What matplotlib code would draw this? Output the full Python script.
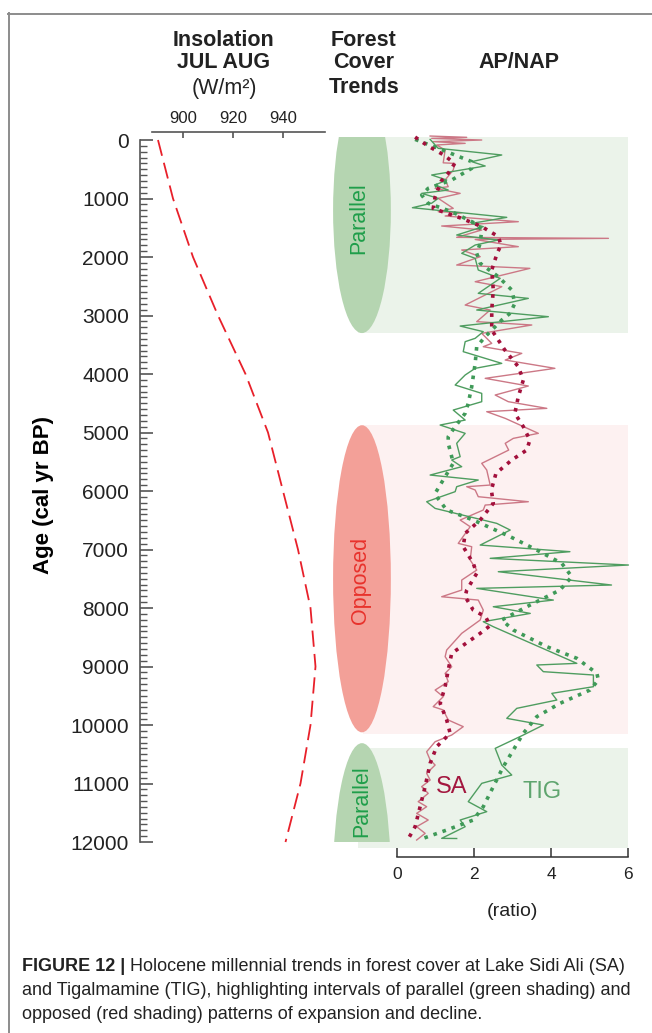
import matplotlib
matplotlib.use("Agg")
import matplotlib.pyplot as plt
from matplotlib.patches import Ellipse, Rectangle
from matplotlib.lines import Line2D
import numpy as np

plt.rcParams['font.family'] = ['Liberation Sans', 'DejaVu Sans']

# ---- data ----
ins_age = [0, 1000, 2000, 3000, 4000, 5000, 6000, 7000, 8000, 9000, 10000, 11000, 12000]
ins_val = [890, 896, 904, 914, 925, 934, 940, 946, 951, 953, 951, 947, 941]

sa_age = [-68, -46, -28, 0, 28, 57, 85, 171, 390, 400, 513, 684, 798, 826, 912, 997,
          1168, 1225, 1242, 1299, 1396, 1470, 1538, 1664, 1681, 1700, 1823, 1880, 1994,
          2137, 2194, 2422, 2507, 2821, 2906, 3105, 3162, 3305, 3476, 3533, 3647, 3761,
          3903, 4074, 4205, 4359, 4473, 4587, 4644, 4758, 5014, 5100, 5185, 5300, 5527,
          5641, 5898, 5926, 5983, 6097, 6183, 6240, 6325, 6496, 6610, 6895, 6952, 7180,
          7351, 7522, 7693, 7807, 7864, 8035, 8205, 8433, 8718, 8832, 9003, 9117, 9259,
          9402, 9516, 9686, 9743, 9914, 10028, 10171, 10285, 10456, 10598, 10684, 10826,
          10940, 11054, 11168, 11310, 11396, 11510, 11624, 11738, 11852, 11966]
sa_val = [0.86, 1.81, 0.90, 2.20, 0.94, 1.77, 1.03, 1.25, 1.20, 1.50, 1.46, 1.25, 1.33, 0.99,
          1.64, 1.07, 1.46, 1.07, 1.68, 1.25, 3.15, 1.16, 2.20, 1.55, 5.49, 2.03, 3.15, 1.68,
          2.16, 1.55, 3.45, 2.03, 2.72, 1.77, 2.42, 2.07, 3.50, 2.20, 2.46, 2.24, 3.24, 2.81,
          4.10, 2.29, 3.41, 2.55, 2.89, 3.89, 2.33, 2.81, 3.67, 3.02, 2.81, 2.90, 2.20, 2.33,
          2.42, 1.81, 2.03, 2.11, 3.41, 2.29, 2.24, 1.64, 1.90, 1.59, 1.94, 1.90, 2.07, 1.68,
          1.68, 1.16, 2.11, 2.24, 2.16, 1.68, 1.29, 1.25, 1.42, 1.25, 1.33, 0.99, 1.20, 0.94,
          1.20, 1.33, 1.72, 1.42, 0.99, 0.77, 0.86, 0.99, 0.77, 0.86, 0.64, 0.81, 0.55, 0.77,
          0.51, 0.81, 0.51, 0.73, 0.51]

tig_age = [-11, 142, 256, 370, 444, 598, 684, 769, 855, 912, 997, 1080, 1157, 1322, 1425,
           1481, 1624, 1709, 1795, 1937, 2023, 2222, 2365, 2621, 2707, 2906, 3020, 3180,
           3276, 3390, 3447, 3618, 3818, 3903, 4017, 4188, 4331, 4473, 4616, 4787, 4872,
           5014, 5185, 5413, 5470, 5584, 5727, 5812, 5926, 6011, 6183, 6297, 6553, 6667,
           6924, 7037, 7151, 7265, 7379, 7607, 7664, 7864, 7978, 8092, 8234, 8319, 8946,
           8974, 9088, 9145, 9345, 9459, 9573, 9715, 9886, 10000, 10171, 10399, 10684,
           10855, 10997, 11310, 11481, 11624, 11738, 11937, 11940]
tig_val = [0.86, 1.07, 2.72, 1.94, 2.29, 0.90, 1.29, 0.99, 1.33, 0.64, 1.07, 0.90, 0.40, 2.85,
           1.94, 2.24, 1.55, 2.63, 2.03, 1.68, 2.03, 2.11, 2.68, 2.11, 3.41, 2.07, 3.93, 1.64,
           2.24, 2.03, 1.77, 1.72, 2.72, 2.03, 1.77, 1.51, 2.20, 2.20, 1.46, 1.77, 1.12, 1.77,
           1.55, 1.64, 1.42, 1.68, 0.86, 2.11, 1.55, 1.51, 0.77, 0.99, 2.59, 2.94, 2.16, 4.49,
           2.42, 6.01, 2.63, 5.57, 2.07, 4.06, 2.50, 3.46, 2.24, 2.50, 4.67, 3.63, 3.80, 5.10,
           5.10, 4.02, 4.15, 3.11, 2.85, 3.80, 3.28, 2.55, 2.72, 2.98, 2.20, 1.85, 2.33, 1.64,
           1.77, 1.16, 1.55]

sa_sm_age = [-50, 100, 250, 400, 550, 700, 970, 1170, 1340, 1480, 1650, 1795, 1937, 2222,
             2564, 2906, 3248, 3590, 3875, 4103, 4387, 4672, 4900, 5128, 5299, 5470, 5698,
             5983, 6211, 6496, 6724, 6952, 7237, 7408, 7693, 7807, 8035, 8150, 8300, 8433,
             8775, 9060, 9345, 9630, 9914, 10142, 10370, 10655, 11054, 11396, 11738, 11994]
sa_sm_val = [0.47, 0.80, 1.20, 1.50, 1.35, 1.15, 0.99, 0.94, 1.68, 2.20, 2.63, 2.70, 2.60,
             2.46, 2.50, 2.46, 2.46, 2.80, 3.15, 3.28, 3.15, 3.06, 3.28, 3.45, 3.37, 2.98,
             2.57, 2.45, 2.50, 2.16, 1.77, 1.72, 1.98, 2.07, 1.81, 1.77, 1.98, 2.30, 2.42,
             2.16, 1.42, 1.33, 1.25, 1.12, 1.29, 1.38, 1.03, 0.86, 0.73, 0.60, 0.47, 0.25]

tig_sm_age = [-11, 142, 370, 484, 684, 826, 940, 1083, 1225, 1425, 1538, 1766, 1937, 2108,
              2336, 2564, 2792, 2960, 3077, 3362, 3533, 3818, 4216, 4502, 4672, 4900, 5071,
              5185, 5413, 5527, 5755, 6040, 6097, 6325, 6496, 6781, 7009, 7237, 7465, 7693,
              7978, 8205, 8376, 8661, 8860, 9117, 9231, 9402, 9630, 9857, 10142, 10427,
              10712, 11054, 11396, 11624, 11795, 11937]
tig_sm_val = [0.47, 1.07, 1.94, 1.94, 1.42, 0.81, 0.64, 0.81, 1.42, 2.03, 2.20, 2.16, 2.07,
              2.16, 2.63, 2.98, 3.06, 2.94, 2.72, 2.29, 2.07, 2.03, 1.94, 1.85, 1.77, 1.51,
              1.33, 1.33, 1.42, 1.46, 1.25, 0.99, 1.03, 1.29, 1.98, 2.94, 3.63, 4.28, 4.54,
              4.23, 3.37, 2.72, 3.02, 3.89, 4.67, 5.19, 5.23, 5.01, 4.23, 3.63, 3.28, 3.02,
              2.76, 2.50, 2.24, 1.98, 1.29, 0.68]

# forest cover intervals (age ranges) and shapes
green_bands = [(-50, 3300), (10400, 12100)]
red_band = (4870, 10150)

W, H = 652, 1033
fig = plt.figure(figsize=(W / 100, H / 100), dpi=100)


def add_ax(l, t, r, b):
    return fig.add_axes([l / W, 1 - b / H, (r - l) / W, (b - t) / H])


ylim = (12256, -137)

# ---- insolation panel ----
ax1 = add_ax(140, 132, 325, 857)
ax1.set_facecolor('none')
ax1.plot(ins_val, ins_age, color='#e8202a', lw=1.3, dashes=(9, 4))
ax1.set_xlim(882.8, 956.8)
ax1.set_ylim(*ylim)
for s in ['right', 'bottom']:
    ax1.spines[s].set_visible(False)
ax1.spines['top'].set_bounds(887.6, 956.8)
ax1.spines['left'].set_bounds(0, 12000)
for s in ['top', 'left']:
    ax1.spines[s].set_color('#555555')
    ax1.spines[s].set_linewidth(1.2)
ax1.xaxis.tick_top()
ax1.set_xticks([900, 920, 940])
ax1.tick_params(axis='x', direction='in', length=4, width=1.1, color='#444444',
                labelsize=12, pad=4, labelcolor='#222222')
ax1.set_yticks(np.arange(0, 12001, 1000))
ax1.set_yticks(np.arange(0, 12001, 100), minor=True)
ax1.tick_params(axis='y', which='major', direction='in', length=9.5, width=1.2,
                color='#555555', labelsize=15, pad=8, labelcolor='#222222')
ax1.tick_params(axis='y', which='minor', direction='in', length=5, width=1.0, color='#555555')
ax1.set_ylabel('Age (cal yr BP)', fontsize=16, fontweight='bold', labelpad=12)

# ---- AP/NAP panel with forest cover shapes ----
ax2 = add_ax(330, 132, 640, 857)
ax2.set_facecolor('none')
ax2.set_xlim(-1.74, 6.31)
ax2.set_ylim(*ylim)

for a0, a1 in green_bands:
    ax2.add_patch(Rectangle((-1.0, a0), 7.0, a1 - a0, color='#ebf3ea', lw=0, zorder=0))
ax2.add_patch(Rectangle((-0.88, red_band[0]), 6.88, red_band[1] - red_band[0],
                        color='#fdf1f1', lw=0, zorder=0))

clip = Rectangle((-2, -50), 9, 12050, transform=ax2.transData, visible=False)
ax2.add_patch(clip)
shapes = [((-0.91, 1200), 4200, '#b5d5b1'),
          ((-0.91, 7500), 5250, '#f3a098'),
          ((-0.91, 12650), 4680, '#b5d5b1')]
for centre, height, col in shapes:
    e = Ellipse(centre, 1.5, height, color=col, lw=0, zorder=1)
    ax2.add_patch(e)
    e.set_clip_path(clip)

ax2.text(-0.99, 1330, 'Parallel', rotation=90, color='#1f9e4a', fontsize=15.5,
         ha='center', va='center', zorder=2)
ax2.text(-0.94, 7520, 'Opposed', rotation=90, color='#e8322c', fontsize=15.5,
         ha='center', va='center', zorder=2)
ax2.text(-0.91, 11300, 'Parallel', rotation=90, color='#1f9e4a', fontsize=15.5,
         ha='center', va='center', zorder=2)

ax2.plot(sa_val, sa_age, color='#cc7886', lw=1.0, zorder=3)
ax2.plot(tig_val, tig_age, color='#4f9d60', lw=1.0, zorder=3)
ax2.plot(tig_sm_val, tig_sm_age, color='#3f9a58', lw=2.6, ls=':', zorder=4)
ax2.plot(sa_sm_val, sa_sm_age, color='#a3103c', lw=2.6, ls=':', zorder=5)

ax2.text(1.42, 11060, 'SA', color='#a3173f', fontsize=17, ha='center', va='center', zorder=6)
ax2.text(3.77, 11145, 'TIG', color='#5fa56f', fontsize=17, ha='center', va='center', zorder=6)

for s in ['top', 'right', 'left']:
    ax2.spines[s].set_visible(False)
ax2.spines['bottom'].set_bounds(0, 6)
ax2.spines['bottom'].set_color('#333333')
ax2.spines['bottom'].set_linewidth(1.1)
ax2.set_yticks([])
ax2.set_xticks([0, 2, 4, 6])
ax2.tick_params(axis='x', direction='in', length=6.5, width=1.1, color='#333333',
                labelsize=12.5, pad=7, labelcolor='#222222')

# ---- headers ----
hx = 224 / W
for txt, yb, wt in [('Insolation', 46, 'bold'), ('JUL AUG', 68, 'bold'), ('(W/m²)', 94, 'normal')]:
    fig.text(hx, 1 - yb / H, txt, ha='center', va='baseline', fontsize=15.5, fontweight=wt,
             color='#222222')
for txt, yb in [('Forest', 46), ('Cover', 68), ('Trends', 93)]:
    fig.text(364 / W, 1 - yb / H, txt, ha='center', va='baseline', fontsize=15.5,
             fontweight='bold', color='#222222')
fig.text(519 / W, 1 - 68 / H, 'AP/NAP', ha='center', va='baseline', fontsize=15.5,
         fontweight='bold', color='#222222')
fig.text(512 / W, 1 - 912 / H, '(ratio)', ha='center', va='center', fontsize=14,
         color='#222222')

# ---- panel frame ----
fig.add_artist(Line2D([8.5 / W, 8.5 / W], [0, 1 - 13 / H], color='#8c8c8c', lw=1.4))
fig.add_artist(Line2D([8 / W, 1], [1 - 13.5 / H, 1 - 13.5 / H], color='#8c8c8c', lw=1.4))

# ---- caption ----
cap_size = 13
renderer = fig.canvas.get_renderer()
bold = fig.text(22 / W, 1 - 971 / H, 'FIGURE 12 | ', fontsize=cap_size, fontweight='bold',
                va='baseline', color='#222222')
bb = bold.get_window_extent(renderer=renderer)
fig.text(bb.x1 / W, 1 - 971 / H,
         'Holocene millennial trends in forest cover at Lake Sidi Ali (SA)',
         fontsize=cap_size, va='baseline', color='#222222')
fig.text(22 / W, 1 - 995 / H,
         'and Tigalmamine (TIG), highlighting intervals of parallel (green shading) and',
         fontsize=cap_size, va='baseline', color='#222222')
fig.text(22 / W, 1 - 1019 / H, 'opposed (red shading) patterns of expansion and decline.',
         fontsize=cap_size, va='baseline', color='#222222')

fig.savefig('out.png', dpi=100)
